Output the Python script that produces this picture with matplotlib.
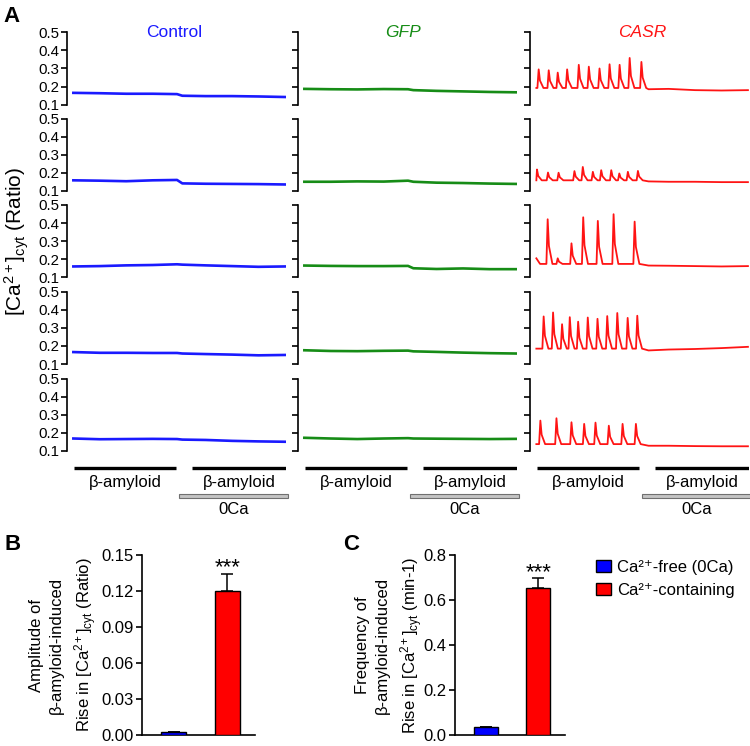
import matplotlib
matplotlib.use('Agg')
import matplotlib.pyplot as plt
from matplotlib.patches import Patch, Rectangle

plt.rcParams['font.family'] = ['Liberation Sans', 'DejaVu Sans']
plt.rcParams['mathtext.fontset'] = 'custom'
plt.rcParams['mathtext.rm'] = 'Liberation Sans'
plt.rcParams['mathtext.it'] = 'Liberation Sans:italic'
plt.rcParams['mathtext.default'] = 'regular'

# ---------------- data ----------------
groups = ['Control', 'GFP', 'CASR']
group_colors = ['#1a1aff', '#168c16', '#ff1414']
group_italic = [False, True, True]

# baseline readings (ratio) at these times (min)
base_t = [0, 2.5, 5, 7.5, 9.8, 10.3, 12.5, 15, 17.5, 20]
control_base = [
    [0.165, 0.163, 0.160, 0.160, 0.158, 0.149, 0.147, 0.147, 0.145, 0.142],
    [0.158, 0.156, 0.153, 0.158, 0.160, 0.141, 0.139, 0.138, 0.137, 0.135],
    [0.160, 0.162, 0.166, 0.168, 0.172, 0.170, 0.166, 0.162, 0.158, 0.160],
    [0.166, 0.162, 0.162, 0.161, 0.161, 0.158, 0.155, 0.152, 0.148, 0.150],
    [0.168, 0.164, 0.165, 0.166, 0.165, 0.162, 0.160, 0.155, 0.152, 0.150],
]
gfp_base = [
    [0.187, 0.185, 0.184, 0.186, 0.185, 0.180, 0.176, 0.173, 0.170, 0.168],
    [0.150, 0.150, 0.152, 0.151, 0.156, 0.150, 0.145, 0.143, 0.140, 0.138],
    [0.165, 0.163, 0.162, 0.162, 0.163, 0.150, 0.146, 0.149, 0.145, 0.145],
    [0.176, 0.172, 0.171, 0.173, 0.174, 0.170, 0.167, 0.163, 0.160, 0.158],
    [0.172, 0.168, 0.165, 0.168, 0.170, 0.168, 0.167, 0.166, 0.165, 0.166],
]

# CASR traces: baseline during beta-amyloid, start value, spikes, post (0Ca) readings
casr_start = [0.192, 0.158, 0.205, 0.185, 0.137]
casr_base_pre = [0.192, 0.158, 0.174, 0.185, 0.137]
post_t = [10.6, 12.5, 15, 17.5, 20]
casr_post = [
    [0.185, 0.187, 0.180, 0.178, 0.180],
    [0.152, 0.150, 0.150, 0.148, 0.148],
    [0.165, 0.164, 0.162, 0.160, 0.162],
    [0.175, 0.180, 0.183, 0.188, 0.195],
    [0.128, 0.128, 0.126, 0.125, 0.125],
]
casr_spike_t = [
    [0.22, 1.17, 2.02, 2.91, 4.01, 4.96, 5.97, 6.92, 7.87, 8.82, 9.93],
    [0.06, 1.10, 2.10, 3.60, 4.39, 5.34, 6.13, 7.08, 7.84, 8.65, 9.60],
    [1.07, 2.02, 3.32, 4.43, 5.81, 7.30, 9.29],
    [0.69, 1.58, 2.43, 3.16, 3.95, 4.86, 5.78, 6.70, 7.65, 8.63, 9.54],
    [0.38, 1.90, 3.32, 4.52, 5.59, 6.85, 8.15, 9.41],
]
casr_spike_peak = [
    [0.295, 0.290, 0.277, 0.295, 0.320, 0.310, 0.300, 0.323, 0.320, 0.358, 0.336],
    [0.218, 0.201, 0.200, 0.209, 0.232, 0.205, 0.214, 0.214, 0.196, 0.205, 0.210],
    [0.421, 0.205, 0.288, 0.432, 0.412, 0.449, 0.408],
    [0.363, 0.385, 0.320, 0.359, 0.334, 0.357, 0.350, 0.365, 0.382, 0.355, 0.367],
    [0.267, 0.280, 0.258, 0.249, 0.256, 0.239, 0.249, 0.249],
]

yticks_A = [0.1, 0.2, 0.3, 0.4, 0.5]
amyloid_periods = [(0.1, 9.7), (11.2, 20.1)]
zero_ca_period = (10.0, 20.3)

bar_labels = ['Ca²⁺-free (0Ca)', 'Ca²⁺-containing']
bar_colors = ['#0000ff', '#ff0000']
amp_mean = [0.0025, 0.120]
amp_sem = [0.0003, 0.014]
freq_mean = [0.034, 0.652]
freq_sem = [0.002, 0.044]

# ---------------- layout helpers ----------------
W, H = 750, 746
fig = plt.figure(figsize=(W / 100, H / 100), dpi=100)


def rect(left, top, width, height):
    return [left / W, 1 - (top + height) / H, width / W, height / H]


col_left = [67, 298, 530]
col_width = 219
row_top = [32.3, 118.5, 205.0, 291.7, 378.5]
row_h = 72.3
title_x = [0.49, 0.48, 0.51]
XLIM = (-0.6, 20.1)


def casr_trace(r):
    ts = [0.0]
    ys = [casr_start[r]]
    base = casr_base_pre[r]
    if casr_start[r] != base:
        ts.append(0.35)
        ys.append(base)
    for t, p in zip(casr_spike_t[r], casr_spike_peak[r]):
        pts = [(t - 0.12, base), (t, p), (t + 0.12, base + 0.4 * (p - base)),
               (t + 0.45, base)]
        for pt in pts:
            if pt[0] > ts[-1]:
                ts.append(pt[0])
                ys.append(pt[1])
    ts += post_t
    ys += casr_post[r]
    return ts, ys


for c in range(3):
    for r in range(5):
        ax = fig.add_axes(rect(col_left[c], row_top[r], col_width, row_h))
        if c == 0:
            x, y = base_t, control_base[r]
        elif c == 1:
            x, y = base_t, gfp_base[r]
        else:
            x, y = casr_trace(r)
        ax.plot(x, y, color=group_colors[c], lw=1.9 if c < 2 else 1.3)
        ax.set_xlim(*XLIM)
        ax.set_ylim(0.1, 0.5)
        for s in ['top', 'right', 'bottom']:
            ax.spines[s].set_visible(False)
        ax.spines['left'].set_linewidth(1.2)
        ax.spines['left'].set_bounds(0.1, 0.5)
        ax.set_xticks([])
        ax.set_yticks(yticks_A)
        ax.tick_params(axis='y', direction='out', length=4, width=1.2, pad=1.5,
                       labelsize=10.8, labelleft=(c == 0))
        ax.set_yticklabels([f'{v:.1f}' for v in yticks_A])
        ax.patch.set_alpha(0)
        if r == 0:
            ax.text(title_x[c], 1.0, groups[c], transform=ax.transAxes,
                    ha='center', va='center', fontsize=12.5,
                    color=group_colors[c],
                    style='italic' if group_italic[c] else 'normal')
    # annotation bars
    an = fig.add_axes(rect(col_left[c], 460, col_width, 60))
    an.set_xlim(*XLIM)
    an.set_ylim(0, 1)
    an.axis('off')
    for a, b in amyloid_periods:
        an.plot([a, b], [0.867, 0.867], color='k', lw=2.4, solid_capstyle='butt')
        an.text((a + b) / 2, 0.633, 'β-amyloid', ha='center', va='center',
                fontsize=12)
    a, b = zero_ca_period
    an.add_patch(Rectangle((a, 0.37), b - a, 0.06, facecolor='#c4c4c4',
                           edgecolor='#707070', lw=0.8, clip_on=False))
    an.text((a + b) / 2, 0.167, '0Ca', ha='center', va='center', fontsize=12)

fig.text(17 / W, 1 - 241 / H, '[Ca$^{2+}$]$_{cyt}$ (Ratio)', rotation=90,
         ha='center', va='center', fontsize=15)
fig.text(3 / W, 1 - 22 / H, 'A', fontsize=16, fontweight='bold', va='baseline')
fig.text(5 / W, 1 - 550 / H, 'B', fontsize=16, fontweight='bold', va='baseline')
fig.text(343 / W, 1 - 550 / H, 'C', fontsize=16, fontweight='bold', va='baseline')


def bar_panel(left, right, means, sems, ymax, yticks, fmt, ylabel, label_x):
    ax = fig.add_axes(rect(left, 555, right - left, 180))
    xs = [0, 1]
    ax.bar(xs, means, width=0.46, color=bar_colors, edgecolor='k', lw=1.0,
           zorder=3)
    ax.errorbar(xs, means, yerr=[[0, 0], sems], fmt='none', ecolor='k',
                elinewidth=1.1, capsize=4.5, capthick=1.1, zorder=2)
    ax.annotate('***', xy=(1, means[1] + sems[1]), xytext=(0, 0.5),
                textcoords='offset points', ha='center', va='baseline',
                fontsize=16)
    ax.set_xlim(-0.59, 1.51)
    ax.set_ylim(0, ymax)
    ax.set_yticks(yticks)
    ax.set_yticklabels([fmt.format(v) for v in yticks])
    ax.set_xticks([])
    for s in ['top', 'right']:
        ax.spines[s].set_visible(False)
    for s in ['left', 'bottom']:
        ax.spines[s].set_linewidth(1.2)
    ax.tick_params(axis='y', direction='out', length=4, width=1.2, pad=2,
                   labelsize=12)
    fig.text(label_x / W, 1 - 645 / H, ylabel, rotation=90, ha='center',
             va='center', fontsize=12, multialignment='center', linespacing=1.45)
    return ax


bar_panel(141.7, 255, amp_mean, amp_sem, 0.15,
          [0.0, 0.03, 0.06, 0.09, 0.12, 0.15], '{:.2f}',
          'Amplitude of\nβ-amyloid-induced\nRise in [Ca$^{2+}$]$_{cyt}$ (Ratio)', 64)
bar_panel(455, 565, freq_mean, freq_sem, 0.8,
          [0.0, 0.2, 0.4, 0.6, 0.8], '{:.1f}',
          'Frequency of\nβ-amyloid-induced\nRise in [Ca$^{2+}$]$_{cyt}$ (min-1)', 390)

handles = [Patch(facecolor=bar_colors[i], edgecolor='k', lw=1.0) for i in range(2)]
fig.legend(handles, bar_labels, loc='upper left',
           bbox_to_anchor=(596 / W, 1 - 560 / H), frameon=False, fontsize=12,
           borderpad=0, borderaxespad=0, handlelength=0.9, handleheight=0.75,
           handletextpad=0.35, labelspacing=0.45)

fig.savefig('out.png', dpi=100)
